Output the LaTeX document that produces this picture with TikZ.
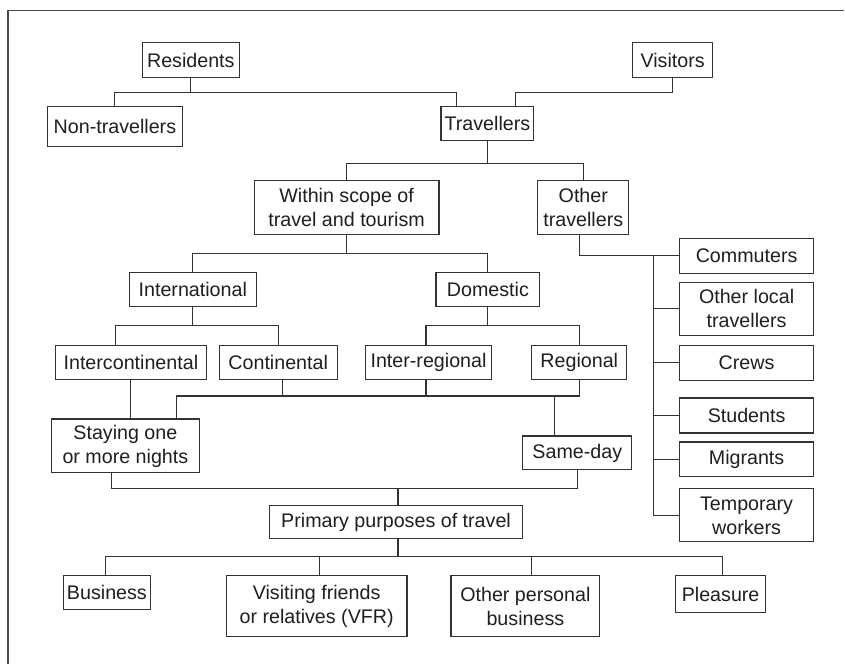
\documentclass[tikz,border=0pt]{standalone}
\usepackage{fontspec}
\setmainfont{Liberation Sans}
\begin{document}
\begin{tikzpicture}[x=1pt,y=-1pt,
  line width=1.1pt,
  every path/.style={draw=black!80},
  bx/.style={draw=black!80, line width=1.1pt, inner sep=0pt, align=center,
    text=black!88, font=\fontsize{19.7}{24}\selectfont}]
\useasboundingbox (0,0) rectangle (845,664);
\fill[white] (0,0) rectangle (845,664);
% frame
\draw[line width=1.5pt, draw=black!70] (7.5,664) -- (7.5,10) -- (845,10);
% boxes
\node[bx, minimum width=97pt, minimum height=35pt] (res) at (190.5,59.5) {Residents};
\node[bx, minimum width=80pt, minimum height=35pt] (vis) at (673,59.5) {Visitors};
\node[bx, minimum width=135pt, minimum height=40pt] (nt) at (114.5,126) {Non-travellers};
\node[bx, minimum width=93pt, minimum height=34pt] (trav) at (487.5,123) {Travellers};
\node[bx, minimum width=185pt, minimum height=54pt] (ws) at (346.5,207) {Within scope of\\travel and tourism};
\node[bx, minimum width=91pt, minimum height=54pt] (ot) at (583.5,207) {Other\\travellers};
\node[bx, minimum width=127pt, minimum height=34pt] (intl) at (192.5,289) {International};
\node[bx, minimum width=104pt, minimum height=34pt] (dom) at (488,289) {Domestic};
\node[bx, minimum width=151pt, minimum height=34pt] (ic) at (130.5,362) {Intercontinental};
\node[bx, minimum width=118pt, minimum height=34pt] (cont) at (278,362) {Continental};
\node[bx, minimum width=127pt, minimum height=34pt] (ir) at (428.5,362) {Inter-regional};
\node[bx, minimum width=95pt, minimum height=34pt] (reg) at (579.5,362) {Regional};
\node[bx, minimum width=148pt, minimum height=54pt] (stay) at (125,446) {Staying one\\or more nights};
\node[bx, minimum width=109pt, minimum height=34pt] (sd) at (577.5,453) {Same-day};
\node[bx, minimum width=254pt, minimum height=33pt] (ppt) at (396,522.5) {Primary purposes of travel};
\node[bx, minimum width=87pt, minimum height=34pt] (bus) at (106.5,593) {Business};
\node[bx, minimum width=181pt, minimum height=61pt] (vfr) at (316.5,606.5) {Visiting friends\\or relatives (VFR)};
\node[bx, minimum width=149pt, minimum height=61pt] (opb) at (525.5,606.5) {Other personal\\business};
\node[bx, minimum width=90pt, minimum height=37pt] (ple) at (721,594.5) {Pleasure};
\node[bx, minimum width=134pt, minimum height=35pt] (com) at (747,255.5) {Commuters};
\node[bx, minimum width=134pt, minimum height=53pt] (olt) at (747,308.5) {Other local\\travellers};
\node[bx, minimum width=134pt, minimum height=35pt] (crew) at (747,362.5) {Crews};
\node[bx, minimum width=134pt, minimum height=35pt] (stu) at (747,415.5) {Students};
\node[bx, minimum width=134pt, minimum height=35pt] (mig) at (747,459.5) {Migrants};
\node[bx, minimum width=134pt, minimum height=53pt] (tw) at (747,515.5) {Temporary\\workers};
\coordinate (trk) at (654,0);
% connectors
\draw (res.south) -- (res.south |- 0,92);
\draw (nt.north) |- ([xshift=16pt]trav.north west |- 0,92) -- ([xshift=16pt]trav.north west);
\draw (vis.south) |- ([xshift=75pt]trav.north west |- 0,92) -- ([xshift=75pt]trav.north west);
\draw (trav.south) -- (trav.south |- 0,163);
\draw (ws.north) |- (ot.north |- 0,163) -- (ot.north);
\draw ([xshift=-3.5pt]ot.south) |- (com.west);
\draw (com.west -| trk) |- (tw.west);
\draw (olt.west) -- (olt.west -| trk);
\draw (crew.west) -- (crew.west -| trk);
\draw (stu.west) -- (stu.west -| trk);
\draw (mig.west) -- (mig.west -| trk);
\draw (ws.south) -- (ws.south |- 0,253);
\draw (intl.north) |- (dom.north |- 0,253) -- (dom.north);
\draw (intl.south) -- (intl.south |- 0,325);
\draw ([xshift=61pt]ic.north west) |- (cont.north |- 0,325) -- (cont.north);
\draw (dom.south) -- (dom.south |- 0,325);
\draw ([xshift=-2.5pt]ir.north) |- (reg.north |- 0,325) -- (reg.north);
\draw (ic.south) -- (ic.south |- stay.north);
\draw ([xshift=126pt]stay.north west) |- (reg.south |- 0,396) -- (reg.south);
\draw ([xshift=4pt]cont.south) -- ([xshift=4pt]cont.south |- 0,396);
\draw ([xshift=-2.5pt]ir.south) -- ([xshift=-2.5pt]ir.south |- 0,396);
\draw ([xshift=32pt]sd.north west) -- ([xshift=32pt]sd.north west |- 0,396);
\draw ([xshift=61pt]stay.south west) |- ([xshift=55pt]sd.south west |- 0,489) -- ([xshift=55pt]sd.south west);
\draw ([xshift=2pt]ppt.north) -- ([xshift=2pt]ppt.north |- 0,489);
\draw ([xshift=2pt]ppt.south) -- ([xshift=2pt]ppt.south |- 0,557);
\draw ([xshift=-1.5pt]bus.north) |- ([xshift=2pt]ple.north |- 0,557) -- ([xshift=2pt]ple.north);
\draw ([xshift=2.5pt]vfr.north) -- ([xshift=2.5pt]vfr.north |- 0,557);
\draw ([xshift=6.5pt]opb.north) -- ([xshift=6.5pt]opb.north |- 0,557);
\end{tikzpicture}
\end{document}
